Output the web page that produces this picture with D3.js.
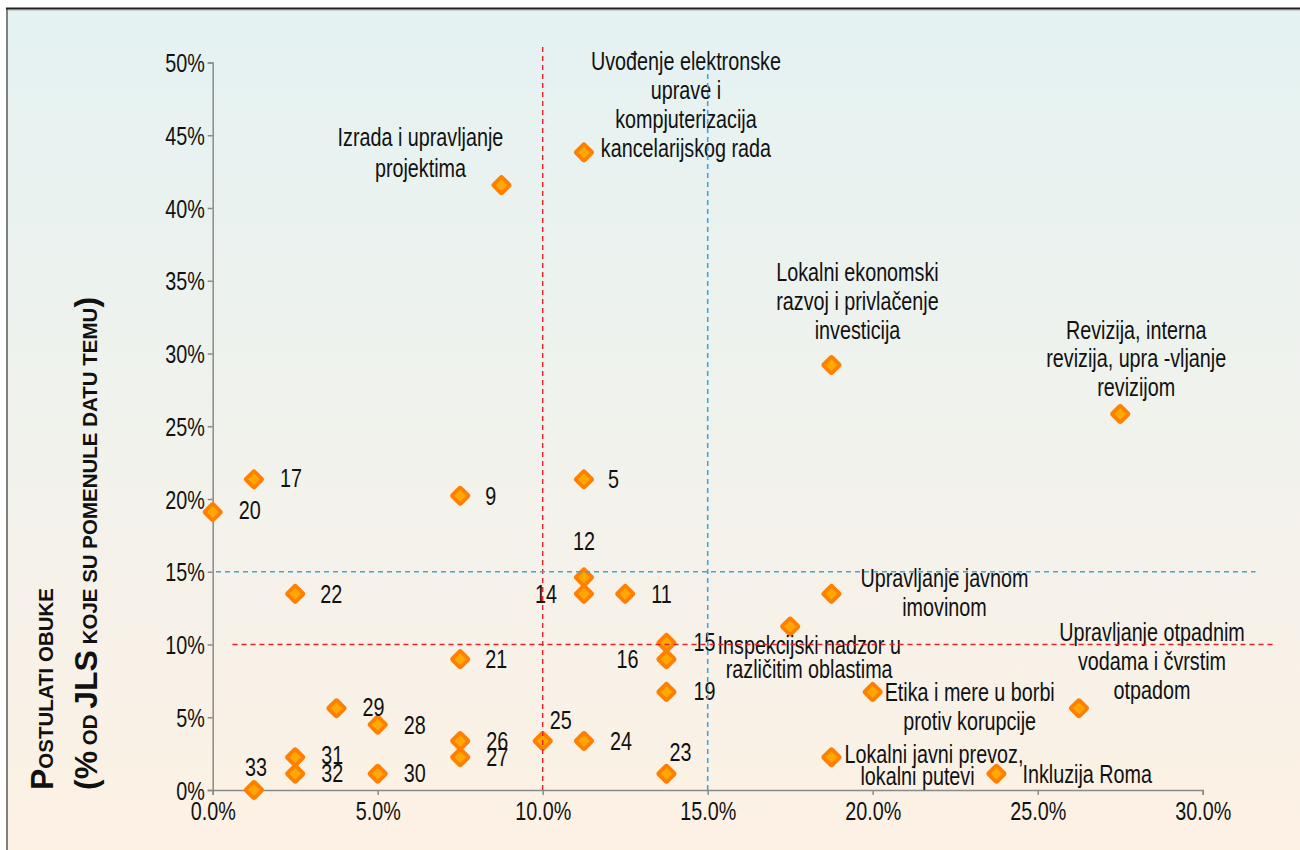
<!DOCTYPE html>
<html>
<head>
<meta charset="utf-8">
<script src="https://cdn.jsdelivr.net/npm/d3@7"></script>
<style>
  html, body { margin: 0; padding: 0; background: #ffffff; }
  svg { display: block; }
  .lbl { font-family: "Liberation Sans", Arial, sans-serif; font-size: 25.5px; fill: #111; }
  .axis text { font-family: "Liberation Sans", Arial, sans-serif; font-size: 25.5px; fill: #111; }
  .axis path, .axis line { stroke: #8a8a8a; stroke-width: 1.5; }
</style>
</head>
<body>
<script>
// ---------------- DATA ----------------
// x: share of topic as training need (in %), y: % of JLS that mentioned the topic
const pointIds = [1, 2, 3, 4, 5, 6, 7, 8, 9, 10, 11, 12, 13, 14, 15, 16, 17, 18, 19, 20, 21, 22, 23, 24, 25, 26, 27, 28, 29, 30, 31, 32, 33];
const xValues = [11.25, 8.75, 18.75, 27.5, 11.25, 18.75, 17.5, 26.25, 7.5, 20, 12.5, 11.25, 18.75, 11.25, 13.75, 13.75, 1.25, 23.75, 13.75, 0, 7.5, 2.5, 13.75, 11.25, 10, 7.5, 7.5, 5, 3.75, 5, 2.5, 2.5, 1.25];
const yValues = [43.82, 41.57, 29.21, 25.84, 21.35, 13.48, 11.24, 5.62, 20.22, 6.74, 13.48, 14.61, 2.25, 13.48, 10.11, 8.99, 21.35, 1.12, 6.74, 19.10, 8.99, 13.48, 1.12, 3.37, 3.37, 3.37, 2.25, 4.49, 5.62, 1.12, 2.25, 1.12, 0];
const pointLabels = [
  ["Uvođenje elektronske", "uprave i", "kompjuterizacija", "kancelarijskog rada"],
  ["Izrada i upravljanje", "projektima"],
  ["Lokalni ekonomski", "razvoj i privlačenje", "investicija"],
  ["Revizija, interna", "revizija, upra  -vljanje", "revizijom"],
  ["5"],
  ["Upravljanje javnom", "imovinom"],
  ["Inspekcijski nadzor u", "različitim oblastima"],
  ["Upravljanje otpadnim", "vodama i čvrstim", "otpadom"],
  ["9"],
  ["Etika i mere u borbi", "protiv korupcije"],
  ["11"], ["12"],
  ["Lokalni javni prevoz,", "lokalni putevi"],
  ["14"], ["15"], ["16"], ["17"],
  ["Inkluzija Roma"],
  ["19"], ["20"], ["21"], ["22"], ["23"], ["24"], ["25"], ["26"], ["27"], ["28"], ["29"], ["30"], ["31"], ["32"], ["33"]
];
const xTickValues = [0, 5, 10, 15, 20, 25, 30];
const yTickValues = [0, 5, 10, 15, 20, 25, 30, 35, 40, 45, 50];
const thresholdsRed = { x: 10, y: 10 };
const thresholdsBlue = { x: 15, y: 15 };
const yTitleLine1 = [["P", "big"], ["OSTULATI OBUKE", "small"]];
const yTitleLine2 = [["(%", "big"], [" OD ", "small"], ["JLS", "big"], [" KOJE SU POMENULE DATU TEMU", "small"], [")", "big"]];

// ---------------- LAYOUT (label placement, pixels relative to marker) ----------------
// [anchor, dx, dy(first line), lineHeight, optional per-line dx]
const labelLayout = [
  ["middle", 102, -91, 29],
  ["middle", -81, -48, 31],
  ["middle", 26, -93, 29],
  ["middle", 16, -84, 28.5],
  ["start", 24, 0, 0],
  ["middle", 113, -16, 29],
  ["middle", 19, 19, 24],
  ["middle", 73, -76, 29],
  ["start", 25, 0, 0],
  ["middle", 97, 0, 29],
  ["start", 26, 0, 0],
  ["middle", 0, -36, 0],
  ["start", 13, -3, 22, [13, 29]],
  ["end", -27, 0, 0],
  ["start", 27, -1, 0],
  ["end", -28, 0, 0],
  ["start", 26, -1, 0],
  ["start", 26, 0, 0],
  ["start", 27, -1, 0],
  ["start", 26, -2, 0],
  ["start", 25, 0, 0],
  ["start", 25, 0, 0],
  ["start", 3, -22, 0],
  ["start", 26, 0, 0],
  ["start", 7, -21, 0],
  ["start", 26, 0, 0],
  ["start", 26, 0, 0],
  ["start", 26, 0, 0],
  ["start", 26, -1, 0],
  ["start", 26, -1, 0],
  ["start", 26, -2, 0],
  ["start", 26, -1, 0],
  ["middle", 2, -23, 0]
];

// ---------------- CHART ----------------
const W = 1300, H = 850;
const SX = 0.775; // horizontal compression to mimic a condensed face
const svg = d3.select("body").append("svg").attr("width", W).attr("height", H);

const defs = svg.append("defs");
const grad = defs.append("linearGradient").attr("id", "bg").attr("x1", 0).attr("y1", 0).attr("x2", 0).attr("y2", 1);
grad.append("stop").attr("offset", "0%").attr("stop-color", "#e4f2f2");
grad.append("stop").attr("offset", "55%").attr("stop-color", "#f2f2ec");
grad.append("stop").attr("offset", "100%").attr("stop-color", "#fdf1e4");

svg.append("rect").attr("x", 7).attr("y", 8).attr("width", W - 7).attr("height", H - 8).attr("fill", "url(#bg)");
svg.append("line").attr("x1", 7).attr("x2", 7).attr("y1", 8).attr("y2", H).attr("stroke", "#808080").attr("stroke-width", 2);
svg.append("line").attr("x1", 6).attr("x2", W).attr("y1", 8.5).attr("y2", 8.5).attr("stroke", "#1e1e1e").attr("stroke-width", 2);
svg.append("line").attr("x1", 8).attr("x2", W).attr("y1", 10.5).attr("y2", 10.5).attr("stroke", "#c8d0cf").attr("stroke-width", 1);

const x = d3.scaleLinear().domain([0, 30]).range([212.7, 1202.7]);
const y = d3.scaleLinear().domain([0, 50]).range([790, 62.5]);

function condense(sel) {
  sel.each(function () {
    const t = d3.select(this);
    const xx = +t.attr("x") || 0;
    t.attr("x", xx / SX).attr("transform", `scale(${SX},1)`);
  });
}

const gx = svg.append("g").attr("class", "axis").attr("transform", `translate(0,${y(0)})`)
  .call(d3.axisBottom(x).tickValues(xTickValues).tickFormat(d => d.toFixed(1) + "%").tickSize(5).tickPadding(7));
const gy = svg.append("g").attr("class", "axis").attr("transform", `translate(${x(0)},0)`)
  .call(d3.axisLeft(y).tickValues(yTickValues).tickFormat(d => d + "%").tickSize(5).tickPadding(3));
gy.selectAll(".tick text").attr("dy", "0.36em");
condense(gx.selectAll(".tick text"));
condense(gy.selectAll(".tick text"));

// markers
const pts = pointIds.map((id, i) => ({ id, x: xValues[i], y: yValues[i], lines: pointLabels[i], lay: labelLayout[i] }));

const mk = svg.append("g");
mk.selectAll("rect").data(pts).join("rect")
  .attr("x", -6).attr("y", -6).attr("width", 12).attr("height", 12).attr("rx", 1.2)
  .attr("fill", "#ffa800").attr("stroke", "#ff8000").attr("stroke-width", 3.8).attr("stroke-linejoin", "round")
  .attr("transform", d => `translate(${x(d.x)},${y(d.y)}) rotate(45)`);

// labels
const lg = svg.append("g");
pts.forEach(d => {
  const [anchor, dx, dy, lh, perDx] = d.lay;
  const t = lg.append("text").attr("class", "lbl").attr("text-anchor", anchor)
    .attr("transform", `translate(${x(d.x)},${y(d.y)}) scale(${SX},1)`);
  d.lines.forEach((ln, k) => {
    t.append("tspan")
      .attr("x", (perDx ? perDx[k] : dx) / SX)
      .attr("y", dy + k * lh)
      .attr("dy", "0.35em")
      .text(ln);
  });
});

// threshold reference lines (drawn on top)
const rg = svg.append("g").attr("fill", "none").attr("stroke-width", 1.4).attr("stroke-dasharray", "5,4");
rg.append("line").attr("x1", x(thresholdsRed.x)).attr("x2", x(thresholdsRed.x)).attr("y1", y(0)).attr("y2", y(51.1)).attr("stroke", "#e8202a");
rg.append("line").attr("x1", x(0.6)).attr("x2", x(32.15)).attr("y1", y(thresholdsRed.y)).attr("y2", y(thresholdsRed.y)).attr("stroke", "#e8202a");
rg.append("line").attr("x1", x(thresholdsBlue.x)).attr("x2", x(thresholdsBlue.x)).attr("y1", y(0)).attr("y2", y(50)).attr("stroke", "#3fa6dc").attr("stroke-width", 1.6);
rg.append("line").attr("x1", x(0.1)).attr("x2", x(31.6)).attr("y1", y(thresholdsBlue.y)).attr("y2", y(thresholdsBlue.y)).attr("stroke", "#3fa6dc").attr("stroke-width", 1.6);

// y axis title (rotated, small caps)
function titleLine(parts, tx) {
  const t = svg.append("text")
    .attr("transform", `translate(${tx},790) rotate(-90)`)
    .attr("text-anchor", "start")
    .style("font-family", "'Liberation Sans', Arial, sans-serif")
    .style("font-weight", "bold")
    .attr("fill", "#111");
  parts.forEach(([s, size]) => {
    t.append("tspan").attr("font-size", size === "big" ? 32 : 20.5).text(s);
  });
}
titleLine(yTitleLine1, 53);
titleLine(yTitleLine2, 97);
</script>
</body>
</html>
